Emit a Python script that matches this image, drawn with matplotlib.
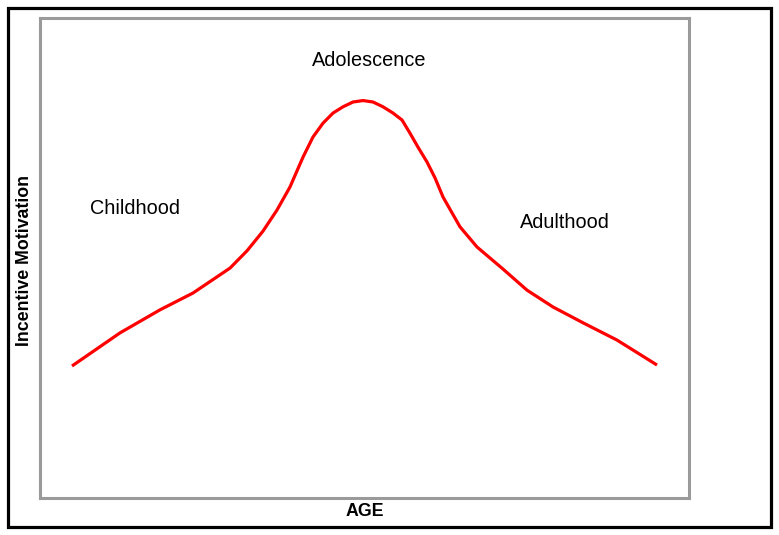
import matplotlib.pyplot as plt
from matplotlib.patches import Rectangle

plt.rcParams['font.family'] = ['Liberation Sans', 'DejaVu Sans']

# curve (age vs incentive motivation, arbitrary units 0-100)
age = [4.93, 12.33, 18.49, 23.57, 29.28, 31.9, 34.36, 36.52, 38.52, 40.52, 42.06,
       43.61, 45.15, 46.69, 48.23, 49.77, 51.31, 52.85, 54.39, 55.78, 57.01, 58.24,
       59.63, 60.86, 62.10, 64.71, 67.33, 71.34, 75.04, 79.04, 83.67, 88.91, 95.07]
motivation = [27.5, 34.4, 39.2, 42.7, 47.9, 51.5, 55.6, 60.0, 64.8, 71.0, 75.2,
              78.1, 80.2, 81.5, 82.5, 82.8, 82.5, 81.5, 80.2, 78.75, 76.0, 73.1,
              70.0, 66.7, 62.7, 56.5, 52.3, 47.7, 43.3, 39.8, 36.5, 32.9, 27.7]

stages = ["Childhood", "Adolescence", "Adulthood"]
stage_x = [14.6, 50.7, 80.9]
stage_y = [60.4, 91.2, 57.5]

W, H = 779, 535
fig = plt.figure(figsize=(W / 100, H / 100), dpi=100)
ax = fig.add_axes([40 / W, 1 - 498 / H, 649 / W, 480 / H])

ax.plot(age, motivation, color='#ff0000', lw=2.3, solid_joinstyle='round',
        solid_capstyle='butt')
for name, x, y in zip(stages, stage_x, stage_y):
    ax.text(x, y, name, ha='center', va='center', fontsize=14.3)

ax.set_xlim(0, 100)
ax.set_ylim(0, 100)
ax.set_xticks([])
ax.set_yticks([])
for s in ax.spines.values():
    s.set_color('#9a9a9a')
    s.set_linewidth(2.2)

fig.text(365 / W, 1 - 511 / H, "AGE", ha='center', va='center', fontsize=12.8, fontweight='bold')
fig.text(25 / W, 1 - 260 / H, "Incentive Motivation", ha='center', va='center',
         rotation=90, fontsize=12.8, fontweight='bold')

# outer black frame
fig.patches.append(Rectangle((8 / W, 1 - 527 / H), 763 / W, 519 / H, transform=fig.transFigure,
                             fill=False, edgecolor='black', lw=2.3))

fig.savefig('out.png', dpi=100)
